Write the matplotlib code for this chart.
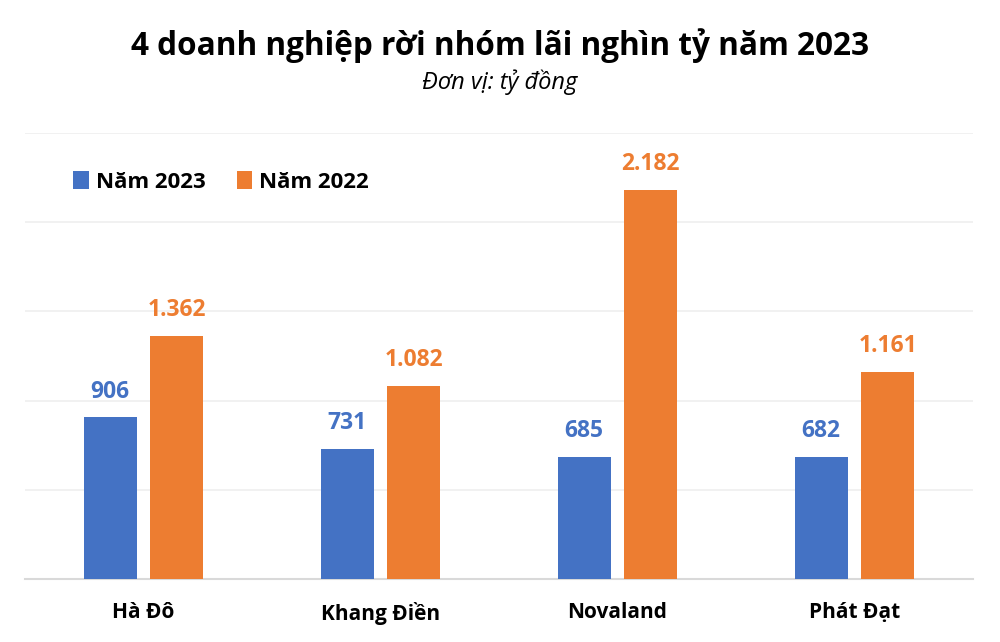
import matplotlib
matplotlib.use("Agg")
import matplotlib.pyplot as plt
import numpy as np

plt.rcParams['font.family'] = ['Open Sans', 'DejaVu Sans']

companies = ['Hà Đô', 'Khang Điền', 'Novaland', 'Phát Đạt']
profit_2023 = [906, 731, 685, 682]
profit_2022 = [1362, 1082, 2182, 1161]
series_names = ['Năm 2023', 'Năm 2022']

BLUE = '#4472C4'
ORANGE = '#ED7D31'


def fmt(v):
    return f"{v:,}".replace(',', '.')


def main():
    fig = plt.figure(figsize=(10, 6.42), dpi=100)
    ax = fig.add_axes([0.025, 0.0981, 0.948, 0.6947])

    x = np.arange(len(companies))
    w = 0.224
    off = 0.141
    b1 = ax.bar(x - off, profit_2023, w, color=BLUE, label=series_names[0], zorder=3)
    b2 = ax.bar(x + off, profit_2022, w, color=ORANGE, label=series_names[1], zorder=3)

    for bars, vals, c in ((b1, profit_2023, BLUE), (b2, profit_2022, ORANGE)):
        for r, v in zip(bars, vals):
            ax.annotate(fmt(v), (r.get_x() + r.get_width() / 2, v),
                        xytext=(0, 10), textcoords='offset points',
                        ha='center', va='bottom', color=c,
                        fontsize=16.5, fontweight='bold')

    ax.set_xlim(-0.5, len(companies) - 0.5)
    ax.set_ylim(0, 2500)
    ax.set_yticks(range(0, 2501, 500))
    ax.yaxis.grid(True, color='#EFEFEF', linewidth=1.2, zorder=0)
    ax.tick_params(axis='y', left=False, labelleft=False)
    ax.tick_params(axis='x', bottom=False, pad=13)
    ax.set_xticks(x)
    ax.set_xticklabels(companies, fontsize=15, fontweight='bold')
    for s in ('top', 'right', 'left'):
        ax.spines[s].set_visible(False)
    ax.spines['bottom'].set_color('#D9D9D9')
    ax.spines['bottom'].set_linewidth(1.5)

    ax.legend(loc='upper left', bbox_to_anchor=(0.03, 0.96), ncol=2, frameon=False,
              prop={'size': 16, 'weight': 'bold'}, handlelength=0.7, handleheight=0.9,
              handletextpad=0.3, columnspacing=1.4)

    fig.text(0.5, 0.929, '4 doanh nghiệp rời nhóm lãi nghìn tỷ năm 2023',
             ha='center', va='center', fontsize=22.7, fontweight='bold')
    fig.text(0.5, 0.872, 'Đơn vị: tỷ đồng', ha='center', va='center',
             fontsize=17, style='italic')

    fig.savefig('out.png', dpi=100)


if __name__ == "__main__":
    main()
